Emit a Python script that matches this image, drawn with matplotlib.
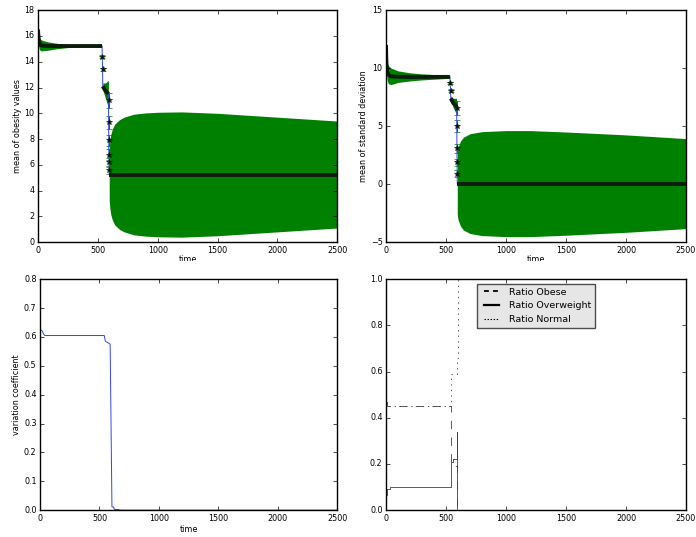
import matplotlib
matplotlib.use('Agg')
from matplotlib import pyplot as plt
from matplotlib.transforms import Bbox, TransformedBbox
import numpy as np

# --- mean of obesity values (top left) ---
ob1_t = [0, 2, 5, 10, 20, 40, 80, 150, 250, 350, 450, 535]
ob1_m = [16.5, 16.2, 15.8, 15.5, 15.3, 15.25, 15.22, 15.22, 15.22, 15.22, 15.22, 15.22]
ob1_e = [0.35, 0.5, 0.55, 0.5, 0.45, 0.4, 0.33, 0.22, 0.12, 0.06, 0.03, 0.02]
obd1_t = [537, 539]
obd1_m = [14.4, 13.4]
obd1_e = [0.1, 0.15]
ob2_t = [541, 550, 560, 570, 580, 588]
ob2_m = [12.1, 11.95, 11.8, 11.7, 11.6, 11.5]
ob2_e = [0.25, 0.4, 0.55, 0.7, 0.9, 1.05]
obd2_t = [589, 590, 591, 592, 593, 594]
obd2_m = [11.0, 9.3, 7.9, 6.8, 6.2, 5.6]
obd2_e = [0.6, 0.5, 0.45, 0.4, 0.35, 0.3]
ob3_t = [595, 600, 608, 620, 640, 680, 720, 800, 900, 1000, 1200, 1500, 2000, 2500]
ob3_m = [5.25] * 14
ob3_e = [2.0, 2.6, 3.1, 3.5, 3.9, 4.25, 4.45, 4.68, 4.78, 4.83, 4.86, 4.75, 4.45, 4.15]

# --- mean of standard deviation (top right) ---
sd1_t = [0, 2, 5, 10, 20, 40, 100, 200, 300, 400, 500, 532]
sd1_m = [12.0, 11.0, 10.2, 9.7, 9.45, 9.3, 9.27, 9.25, 9.25, 9.25, 9.25, 9.25]
sd1_e = [0.3, 0.5, 0.7, 0.8, 0.78, 0.72, 0.5, 0.35, 0.26, 0.2, 0.14, 0.13]
sdd1_t = [535, 538]
sdd1_m = [8.7, 8.06]
sdd1_e = [0.1, 0.15]
sd2_t = [540, 550, 560, 570, 580, 588]
sd2_m = [7.4, 7.2, 7.0, 6.9, 6.8, 6.7]
sd2_e = [0.2, 0.3, 0.4, 0.5, 0.6, 0.7]
sdd2_t = [589, 590, 591, 592, 593]
sdd2_m = [6.6, 5.0, 3.1, 1.9, 0.9]
sdd2_e = [0.6, 0.5, 0.4, 0.3, 0.3]
sd3_t = [594, 600, 620, 645, 700, 800, 1000, 1200, 1500, 2000, 2500]
sd3_m = [0.05] * 11
sd3_e = [2.6, 3.1, 3.65, 4.0, 4.3, 4.48, 4.57, 4.57, 4.45, 4.2, 3.88]

# --- variation coefficient (bottom left) ---
cv_t = [0, 2, 5, 20, 30, 40, 540, 550, 580, 590, 600, 605, 620, 625, 660, 680, 2500]
cv = [0.8, 0.65, 0.625, 0.62, 0.61, 0.605, 0.605, 0.585, 0.578, 0.575, 0.2, 0.012,
      0.01, 0.003, 0.002, 0.0, 0.0]

# --- ratios (bottom right), step data ---
obese_t = [0, 8, 541, 591, 2500]
obese = [0.47, 0.45, 0.19, 0.0, 0.0]
over_t = [0, 8, 35, 541, 560, 590, 595, 2500]
over = [0.065, 0.09, 0.1, 0.21, 0.22, 0.34, 0.0, 0.0]
normal_t = [0, 8, 541, 592, 596, 2500]
normal = [0.465, 0.45, 0.59, 0.66, 1.0, 1.0]

plt.style.use('classic')
plt.rcParams['font.size'] = 5.8
plt.rcParams['xtick.major.size'] = 3
plt.rcParams['ytick.major.size'] = 3
plt.rcParams['xtick.major.pad'] = 2.5
plt.rcParams['ytick.major.pad'] = 2.5
plt.rcParams['figure.facecolor'] = 'white'
plt.rcParams['savefig.facecolor'] = 'white'

fig = plt.figure(figsize=(6.96, 5.37), dpi=100)
ax1 = fig.add_axes([0.0546, 0.549, 0.430, 0.432])
ax2 = fig.add_axes([0.5546, 0.549, 0.431, 0.432])
ax3 = fig.add_axes([0.0575, 0.050, 0.427, 0.430])
ax4 = fig.add_axes([0.5546, 0.050, 0.431, 0.430])


def panel(ax, segs, drops):
    # green error band + dark dense mean line for each plateau segment
    for t, m, e in segs:
        m, e = np.array(m), np.array(e)
        ax.fill_between(t, m - e, m + e, color='g', lw=0)
    for t, m, e in drops:
        ax.errorbar(t, m, yerr=e, fmt='none', ecolor='g', capsize=2, elinewidth=0.8)
    all_t = segs[0][0] + drops[0][0] + segs[1][0] + drops[1][0] + segs[2][0]
    all_m = segs[0][1] + drops[0][1] + segs[1][1] + drops[1][1] + segs[2][1]
    ax.plot(all_t, all_m, '-', color='#3344ee', lw=0.7)
    for t, m, e in segs:
        ax.plot(t, m, '-', color='#0a1c0a', lw=2.8, solid_capstyle='butt')
    for t, m, e in drops:
        ax.plot(t, m, '*', color='k', mec='#0a2a0a', ms=4)
    ax.set_xlim(0, 2500)


panel(ax1, [(ob1_t, ob1_m, ob1_e), (ob2_t, ob2_m, ob2_e), (ob3_t, ob3_m, ob3_e)],
      [(obd1_t, obd1_m, obd1_e), (obd2_t, obd2_m, obd2_e)])
ax1.set_ylim(0, 18)
ax1.set_yticks(range(0, 19, 2))
ax1.set_ylabel('mean of obesity values', labelpad=2)

panel(ax2, [(sd1_t, sd1_m, sd1_e), (sd2_t, sd2_m, sd2_e), (sd3_t, sd3_m, sd3_e)],
      [(sdd1_t, sdd1_m, sdd1_e), (sdd2_t, sdd2_m, sdd2_e)])
ax2.set_ylim(-5, 15)
ax2.set_ylabel('mean of standard deviation', labelpad=2)

# "time" labels of the top row are half hidden in the original
clip = TransformedBbox(Bbox([[0, 1 - 261 / 537], [1, 1]]), fig.transFigure)
for ax in (ax1, ax2):
    lab = ax.set_xlabel('time', labelpad=0.5)
    lab.set_clip_box(clip)
    lab.set_clip_on(True)

ax3.plot(cv_t, cv, '-', color='#3344ee', lw=0.7)
ax3.set_xlim(0, 2500)
ax3.set_ylim(0, 0.8)
ax3.set_xlabel('time', labelpad=1.5)
ax3.set_ylabel('variation coefficient', labelpad=2)

ax4.plot(obese_t, obese, '--', color='0.25', lw=0.6, drawstyle='steps-post', label='Ratio Obese')
ax4.plot(over_t, over, '-', color='0.25', lw=0.6, drawstyle='steps-post', label='Ratio Overweight')
ax4.plot(normal_t, normal, ':', color='0.25', lw=0.6, drawstyle='steps-post', label='Ratio Normal')
ax4.set_xlim(0, 2500)
ax4.set_ylim(0, 1.0)
leg = ax4.legend(loc='upper center', fontsize=6.8, handlelength=2.2)
leg.get_frame().set_facecolor('0.9')
leg.get_frame().set_edgecolor('0.3')
hl = leg.get_lines()
for line in hl:
    line.set_color('k')
hl[0].set_linewidth(1.3)
hl[0].set_dashes([3.5, 3])
hl[1].set_linewidth(1.6)
hl[2].set_linewidth(0.8)
hl[2].set_dashes([1, 1.2])

fig.savefig('out.png', dpi=100)
